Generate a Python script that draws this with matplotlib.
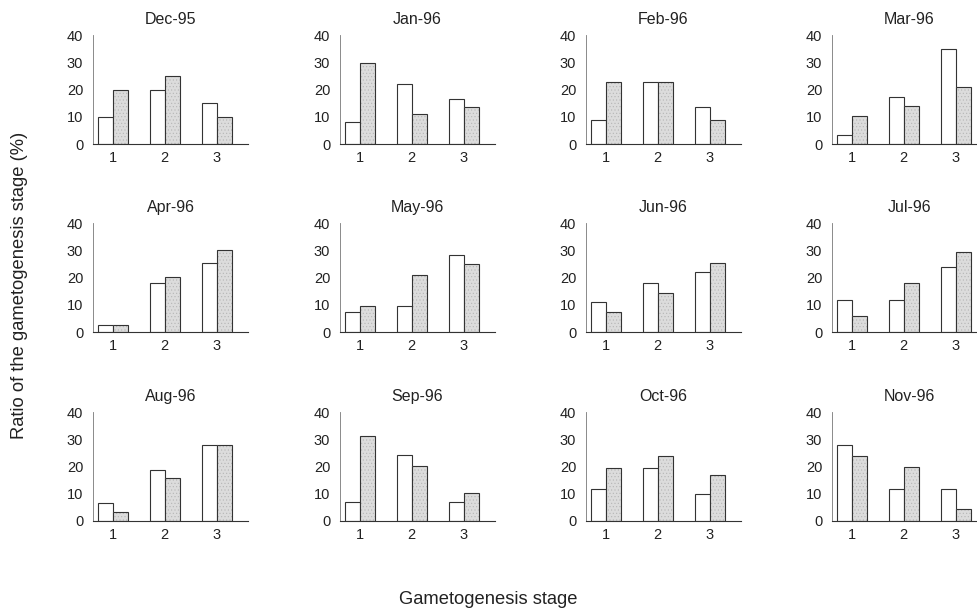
import matplotlib
matplotlib.use("Agg")
import matplotlib.pyplot as plt
import numpy as np

plt.rcParams['font.family'] = ['Liberation Sans', 'DejaVu Sans']
plt.rcParams['hatch.linewidth'] = 0.4

months = ["Dec-95", "Jan-96", "Feb-96", "Mar-96",
          "Apr-96", "May-96", "Jun-96", "Jul-96",
          "Aug-96", "Sep-96", "Oct-96", "Nov-96"]
stages = [1, 2, 3]
stage_labels = ["1", "2", "3"]

white_vals = [
    [10, 20, 15],
    [8, 22, 16.5],
    [9, 23, 13.5],
    [3.5, 17.5, 35],
    [2.5, 18, 25.5],
    [7.5, 9.5, 28.5],
    [11, 18, 22],
    [12, 12, 24],
    [6.5, 19, 28],
    [7, 24.5, 7],
    [12, 19.5, 10],
    [28, 12, 12],
]
gray_vals = [
    [20, 25, 10],
    [30, 11, 13.5],
    [23, 23, 9],
    [10.5, 14, 21],
    [2.5, 20.5, 30.5],
    [9.5, 21, 25],
    [7.5, 14.5, 25.5],
    [6, 18, 29.5],
    [3.5, 16, 28],
    [31.5, 20.5, 10.5],
    [19.5, 24, 17],
    [24, 20, 4.5],
]
yticks = [0, 10, 20, 30, 40]

W, H = 977, 615
fig = plt.figure(figsize=(W / 100, H / 100), dpi=100)

col_left = [93, 340, 586, 832]
row_top = [35, 223, 412]
ax_w, ax_h = 155, 109

bw = 0.29
for i, m in enumerate(months):
    r, c = divmod(i, 4)
    left = col_left[c] / W
    bottom = 1 - (row_top[r] + ax_h) / H
    ax = fig.add_axes([left, bottom, ax_w / W, ax_h / H])
    x = np.array(stages, dtype=float)
    ax.bar(x - bw / 2, white_vals[i], width=bw, facecolor='white',
           edgecolor='#333333', linewidth=0.8)
    # stippled fill
    ax.bar(x + bw / 2, gray_vals[i], width=bw, facecolor='#dcdcdc',
           edgecolor='#b5b5b5', linewidth=0, hatch='.....')
    ax.bar(x + bw / 2, gray_vals[i], width=bw, facecolor='none',
           edgecolor='#333333', linewidth=0.8)
    ax.set_xlim(0.62, 3.6)
    ax.set_ylim(0, 40.3)
    ax.set_yticks(yticks)
    ax.set_xticks(stages)
    ax.set_xticklabels(stage_labels)
    for s in ['top', 'right']:
        ax.spines[s].set_visible(False)
    ax.spines['left'].set_color('#777777')
    ax.spines['left'].set_linewidth(0.6)
    ax.spines['bottom'].set_color('#333333')
    ax.spines['bottom'].set_linewidth(0.8)
    ax.tick_params(axis='both', length=0, labelsize=10.5, colors='#222222')
    ax.tick_params(axis='x', pad=5)
    ax.tick_params(axis='y', pad=7)
    ax.set_title(m, fontsize=11.5, pad=8, color='#222222')

fig.text(20 / W, 1 - 285 / H, "Ratio of the gametogenesis stage (%)",
         rotation=90, ha='center', va='center', fontsize=13.2, color='#222222')
fig.text(488 / W, 1 - 600 / H, "Gametogenesis stage",
         ha='center', va='center', fontsize=13.2, color='#222222')

fig.savefig("out.png", dpi=100)
